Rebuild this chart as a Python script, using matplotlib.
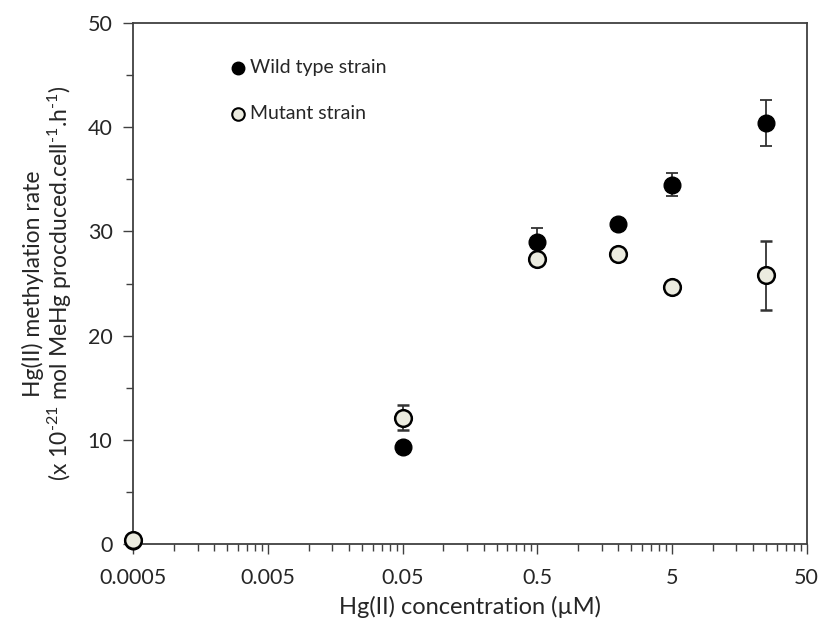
import numpy as np
import matplotlib
matplotlib.use("Agg")
import matplotlib.pyplot as plt
from matplotlib.ticker import FixedLocator, FixedFormatter, MultipleLocator

plt.rcParams['font.family'] = ['Lato', 'DejaVu Sans']
plt.rcParams['mathtext.fontset'] = 'custom'
plt.rcParams['mathtext.rm'] = 'Lato'
plt.rcParams['mathtext.default'] = 'regular'

# data
conc = [0.0005, 0.05, 0.5, 2, 5, 25]
wt_rate = [0.3, 9.3, 29.0, 30.7, 34.5, 40.4]
wt_err = [0, 0, 1.3, 0, 1.1, 2.2]
mut_rate = [0.4, 12.1, 27.4, 27.8, 24.7, 25.8]
mut_err = [0, 1.2, 0, 0, 0, 3.3]

xticks = [0.0005, 0.005, 0.05, 0.5, 5, 50]
xticklabels = ['0.0005', '0.005', '0.05', '0.5', '5', '50']

axis_col = '#404040'
text_col = '#262626'
mut_col = '#ebebdf'

fig = plt.figure(figsize=(8.21, 6.24), dpi=100)
ax = fig.add_axes([0.1624, 0.1282, 0.8202, 0.8347])

ax.errorbar(conc, wt_rate, yerr=wt_err, fmt='o', ms=12, mfc='black', mec='black',
            ecolor='#333333', elinewidth=1.3, capsize=4.5, capthick=1.3, zorder=3, clip_on=False)
ax.errorbar(conc, mut_rate, yerr=mut_err, fmt='o', ms=12, mfc=mut_col, mec='black', mew=1.8,
            ecolor='#333333', elinewidth=1.3, capsize=4.5, capthick=1.3, zorder=4, clip_on=False)

ax.set_xscale('log')
ax.set_xlim(0.0005, 50)
ax.set_ylim(0, 50)

ax.xaxis.set_major_locator(FixedLocator(xticks))
ax.xaxis.set_major_formatter(FixedFormatter(xticklabels))
minor = [k * d for d in xticks[:-1] for k in range(2, 10)]
ax.xaxis.set_minor_locator(FixedLocator(minor))
ax.xaxis.set_minor_formatter(FixedFormatter([''] * len(minor)))
ax.yaxis.set_major_locator(MultipleLocator(10))
ax.yaxis.set_minor_locator(MultipleLocator(5))

ax.tick_params(which='major', direction='out', length=7, width=1, color=axis_col,
               labelsize=15.5, labelcolor=text_col)
ax.tick_params(which='minor', direction='out', length=5, width=1, color=axis_col)
ax.tick_params(axis='x', which='major', pad=10)
ax.tick_params(axis='y', which='major', pad=8)

for s in ax.spines.values():
    s.set_color(axis_col)
    s.set_linewidth(1.3)

ax.set_xlabel('Hg(II) concentration (µM)', fontsize=17, color=text_col, labelpad=6)
ax.set_ylabel('Hg(II) methylation rate\n(x 10$^{\\text{-21}}$ mol MeHg procduced.cell$^{\\text{-1}}$.h$^{\\text{-1}}$)',
              fontsize=16.5, color=text_col, labelpad=10, linespacing=1.05)

# legend drawn as markers and text inside the axes
ax.plot([0.00297], [45.7], 'o', ms=9, mfc='black', mec='black')
ax.text(0.0037, 45.7, 'Wild type strain', fontsize=14, va='center', color=text_col)
ax.plot([0.00297], [41.3], 'o', ms=9, mfc=mut_col, mec='black', mew=1.5)
ax.text(0.0037, 41.3, 'Mutant strain', fontsize=14, va='center', color=text_col)

fig.savefig('out.png', dpi=100)
